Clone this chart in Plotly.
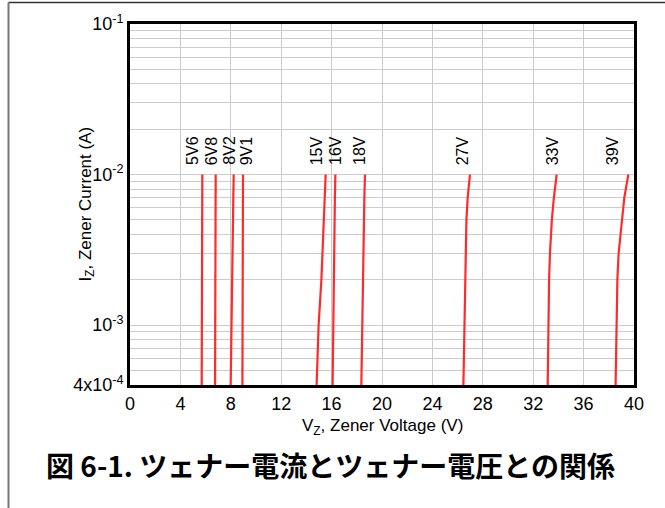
import math
import plotly.graph_objects as go

# Data
currents = [4e-4, 1e-3, 2e-3, 3e-3, 5e-3, 7e-3, 1e-2]
diode_names = ["5V6", "6V8", "8V2", "9V1", "15V", "16V", "18V", "27V", "33V", "39V"]
v_5v6 = [5.69, 5.70, 5.71, 5.72, 5.73, 5.73, 5.74]
v_6v8 = [6.75, 6.76, 6.77, 6.78, 6.79, 6.79, 6.80]
v_8v2 = [7.99, 8.04, 8.09, 8.12, 8.17, 8.20, 8.23]
v_9v1 = [8.92, 8.93, 8.94, 8.95, 8.96, 8.96, 8.97]
v_15v = [14.81, 14.97, 15.19, 15.27, 15.35, 15.43, 15.53]
v_16v = [16.08, 16.12, 16.16, 16.19, 16.23, 16.26, 16.30]
v_18v = [18.36, 18.42, 18.47, 18.51, 18.56, 18.60, 18.65]
v_27v = [26.46, 26.55, 26.59, 26.63, 26.70, 26.80, 26.98]
v_33v = [33.15, 33.20, 33.26, 33.33, 33.48, 33.64, 33.86]
v_39v = [38.54, 38.60, 38.68, 38.78, 39.02, 39.23, 39.55]
label_x = [4.94, 6.48, 7.94, 9.26, 14.82, 16.3, 18.2, 26.4, 33.55, 38.3]
label_y = 0.0112

x_ticks = [0, 4, 8, 12, 16, 20, 24, 28, 32, 36, 40]
y_major = [4e-4, 1e-3, 1e-2, 1e-1]
y_major_text = ["4x10<sup>-4</sup>", "10<sup>-3</sup>", "10<sup>-2</sup>", "10<sup>-1</sup>"]
y_minor = [m * 10 ** e for e in (-4, -3, -2) for m in range(1, 10)]
y_minor = [v for v in y_minor if v >= 4e-4]

series = [v_5v6, v_6v8, v_8v2, v_9v1, v_15v, v_16v, v_18v, v_27v, v_33v, v_39v]

W, H = 665, 508
ML, MR, MT, MB = 130, 31, 24, 123
PW, PH = W - ML - MR, H - MT - MB

FONT = "Arial, Liberation Sans, sans-serif"
GRID = "#cccccc"

fig = go.Figure()
for name, vs in zip(diode_names, series):
    fig.add_trace(go.Scatter(x=vs, y=currents, mode="lines", name=name,
                             line=dict(color="#ff2a2a", width=2.2), showlegend=False))

for name, lx in zip(diode_names, label_x):
    fig.add_annotation(x=lx, y=math.log10(label_y), yref="y", xref="x", text=name,
                       textangle=-90, showarrow=False, xanchor="center", yanchor="bottom",
                       font=dict(family=FONT, size=16, color="black"))

# axis titles as annotations
fig.add_annotation(xref="paper", yref="paper", x=(86 - ML) / PW, y=0.5,
                   text="I<sub>Z</sub>, Zener Current (A)", textangle=-90, showarrow=False,
                   xanchor="center", yanchor="middle",
                   font=dict(family=FONT, size=17, color="black"))
fig.add_annotation(xref="paper", yref="paper", x=0.5, y=-(427 - MT - PH) / PH,
                   text="V<sub>Z</sub>, Zener Voltage (V)", showarrow=False,
                   xanchor="center", yanchor="middle",
                   font=dict(family=FONT, size=17, color="black"))

fig.add_annotation(xref="paper", yref="paper", x=(330 - ML) / PW, y=1 - (465 - MT) / PH,
                   text="<b>図 6-1. ツェナー電流とツェナー電圧との関係</b>", showarrow=False,
                   xanchor="center", yanchor="middle",
                   font=dict(family="Noto Sans CJK JP", size=28, color="black"))

# outer frame lines (top and left)
fig.add_shape(type="line", xref="paper", yref="paper",
              x0=(8.5 - ML) / PW, x1=(W - ML) / PW, y0=1 + (MT - 2.5) / PH, y1=1 + (MT - 2.5) / PH,
              line=dict(color="#333333", width=1.5))
fig.add_shape(type="line", xref="paper", yref="paper",
              x0=(8.5 - ML) / PW, x1=(8.5 - ML) / PW, y0=1 + (MT - 2.5) / PH, y1=-(MB) / PH,
              line=dict(color="#777777", width=2))

fig.update_xaxes(range=[0, 40], tickvals=x_ticks, ticks="", showgrid=True,
                 gridcolor=GRID, gridwidth=1.4, zeroline=False,
                 showline=True, linecolor="black", linewidth=3, mirror=True,
                 tickfont=dict(family=FONT, size=18, color="black"))
fig.update_yaxes(type="log", range=[math.log10(4e-4), -1], tickvals=y_major,
                 ticktext=y_major_text, ticks="", showgrid=True, gridcolor=GRID,
                 gridwidth=1.4, zeroline=False,
                 minor=dict(tickvals=y_minor, showgrid=True, gridcolor=GRID, gridwidth=1.4,
                            ticks=""),
                 showline=True, linecolor="black", linewidth=3, mirror=True,
                 tickfont=dict(family=FONT, size=18, color="black"))

fig.update_layout(width=W, height=H, margin=dict(l=ML, r=MR, t=MT, b=MB),
                  plot_bgcolor="white", paper_bgcolor="white", showlegend=False)

fig.write_html("out.html", config={"displayModeBar": False},
               post_script="document.body.style.margin='0';")
